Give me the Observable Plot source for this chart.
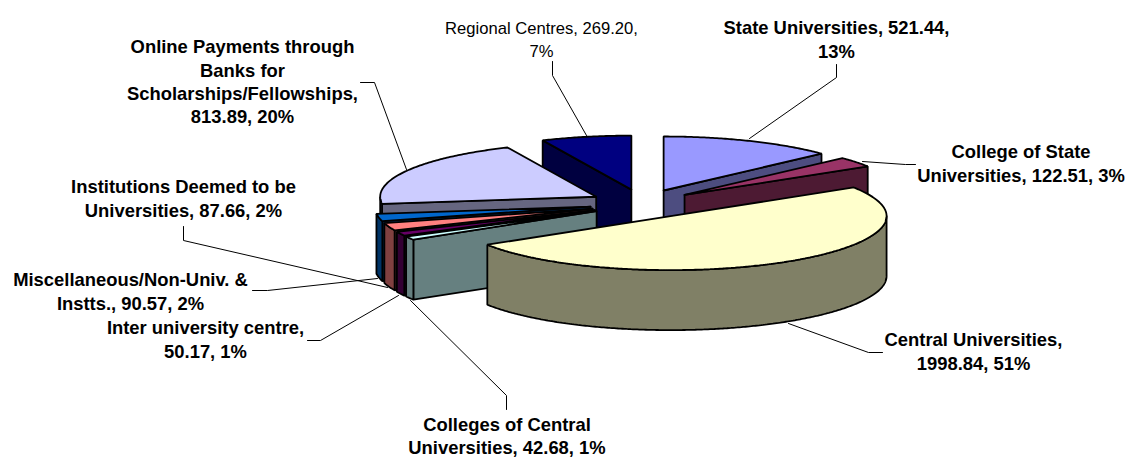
<!DOCTYPE html>
<html><head><meta charset="utf-8">
<script src="https://cdn.jsdelivr.net/npm/d3@7"></script>
<script src="https://cdn.jsdelivr.net/npm/@observablehq/plot@0.6"></script>
<style>html,body{margin:0;padding:0;background:#fff}svg{display:block}</style>
</head><body><div id="chart"></div>
<script>
const categories = ["State Universities","College of State Universities","Central Universities","Colleges of Central Universities","Inter university centre","Miscellaneous/Non-Univ. & Instts.","Institutions Deemed to be Universities","Online Payments through Banks for Scholarships/Fellowships","Regional Centres"];
const values = [521.44,122.51,1998.84,42.68,50.17,90.57,87.66,813.89,269.20];
const percents = [13,3,51,1,1,2,2,20,7];
const topColors = ["#9999FF","#993366","#FFFFCC","#CCFFFF","#660066","#FF8080","#0066CC","#CCCCFF","#000080"];
const wallColors = ["#4D4D80","#4D1A33","#808066","#668080","#330033","#804040","#003366","#666680","#000040"];
const labelLines = [
 ["State Universities, 521.44,","13%"],
 ["College of State","Universities, 122.51, 3%"],
 ["Central Universities,","1998.84, 51%"],
 ["Colleges of Central","Universities, 42.68, 1%"],
 ["Inter university centre,","50.17, 1%"],
 ["Miscellaneous/Non-Univ. &","Instts., 90.57, 2%"],
 ["Institutions Deemed to be","Universities, 87.66, 2%"],
 ["Online Payments through","Banks for","Scholarships/Fellowships,","813.89, 20%"],
 ["Regional Centres, 269.20,","7%"]
];
// layout (pixels)
const W=1128,H=457, CX=642,CY=203.3, RX=216,RY=54, EX=53,EY=14.5, DEPTH=60;
const labelAnchor=[[836,28],[1020.5,152],[973,340],[506.5,424.5],[205,328],[130,280],[183,187],[242,47],[541,28]];
const leaders=[
 [[836,64],[836,77],[749,138]],
 [[915,164],[905,164],[862,161]],
 [[882,352],[868,352],[788,323]],
 [[410,300],[506,395],[506,409]],
 [[307,340],[320,340],[398,295]],
 [[252,290],[267,290],[377,278]],
 [[183,226],[183,240],[387,287]],
 [[360,82],[374,82],[406,169]],
 [[552,61],[552,75],[586,135]]
];
const paintOrder=[8,0,1,7,6,5,4,3,2];
const LINE=23.2, FONT_BOLD=18.4, FONT_REG=16.6;

const total=d3.sum(values);
let acc=0;
const slices=values.map((v,i)=>{
  const a0=acc/total*2*Math.PI; acc+=v; const a1=acc/total*2*Math.PI;
  const m=(a0+a1)/2;
  return {i,a0,a1,cx:CX+EX*Math.sin(m),cy:CY-EY*Math.cos(m)};
});
const pt=(s,a,dz=0)=>[s.cx+RX*Math.sin(a),s.cy-RY*Math.cos(a)+dz];
function arc(s,a0,a1,dz=0){
  const n=Math.max(2,Math.ceil(Math.abs(a1-a0)/0.01)),o=[];
  for(let k=0;k<=n;k++)o.push(pt(s,a0+(a1-a0)*k/n,dz));
  return o;
}
const faces=[]; let fid=0;
function add(poly,fill){const id=fid++;poly.concat([poly[0]]).forEach(p=>faces.push({id,x:p[0],y:p[1],fill}));}
for(const idx of paintOrder){
  const s=slices[idx],c=[s.cx,s.cy],cb=[s.cx,s.cy+DEPTH],wall=wallColors[idx],PI=Math.PI;
  if(Math.sin(s.a0)<0) add([c,pt(s,s.a0),pt(s,s.a0,DEPTH),cb],wall);
  if(Math.sin(s.a1)>0.001) add([c,pt(s,s.a1),pt(s,s.a1,DEPTH),cb],wall);
  const f0=Math.max(s.a0,PI/2),f1=Math.min(s.a1,3*PI/2);
  if(f1>f0) add(arc(s,f0,f1).concat(arc(s,f1,f0,DEPTH)),wall);
  add([c].concat(arc(s,s.a0,s.a1)),topColors[idx]);
}
const leaderRows=leaders.flatMap((l,i)=>l.map(p=>({i,x:p[0],y:p[1]})));
const textRows=labelLines.flatMap((ls,i)=>ls.map((t,j)=>({t,i,x:labelAnchor[i][0],y:labelAnchor[i][1]+j*LINE})));
const bold=textRows.filter(d=>d.i!==8), regular=textRows.filter(d=>d.i===8);
const textOpts={x:"x",y:"y",text:"t",textAnchor:"middle",lineAnchor:"middle",fill:"#000",fontFamily:"Liberation Sans, Arial, sans-serif"};
const chart=Plot.plot({
  width:W,height:H,margin:0,
  x:{domain:[0,W],range:[0,W],axis:null},
  y:{domain:[0,H],range:[0,H],axis:null},
  marks:[
    Plot.line(leaderRows,{x:"x",y:"y",z:"i",stroke:"#000",strokeWidth:1,curve:"linear"}),
    Plot.line(faces,{x:"x",y:"y",z:"id",fill:"fill",stroke:"#000",strokeWidth:1.8,strokeLinejoin:"miter",curve:"linear"}),
    Plot.text(bold,{...textOpts,fontSize:FONT_BOLD,fontWeight:"bold"}),
    Plot.text(regular,{...textOpts,fontSize:FONT_REG,fontWeight:"normal"})
  ]
});
document.getElementById("chart").append(chart);
</script></body></html>
